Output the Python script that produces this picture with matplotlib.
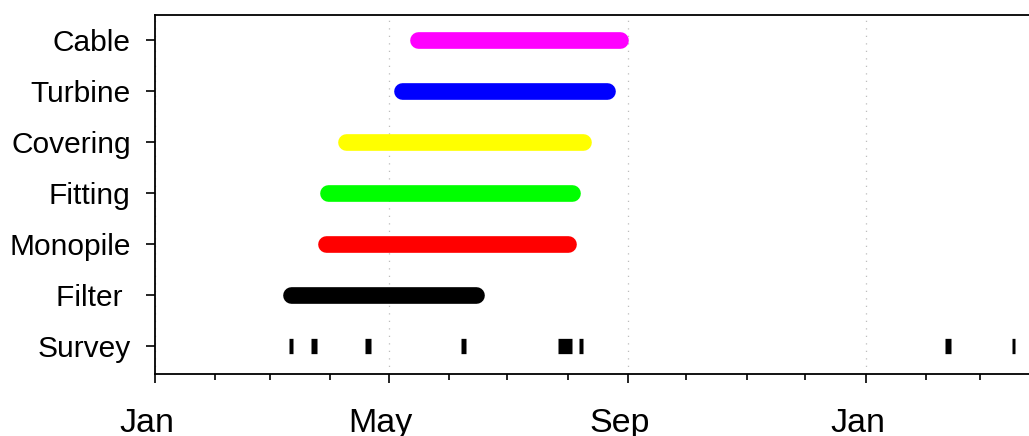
import datetime as dt
import matplotlib
matplotlib.use('Agg')
from matplotlib import pyplot as plt
import matplotlib.dates as mdates
import matplotlib.transforms as mtransforms

plt.rcParams['font.family'] = ['Liberation Sans', 'DejaVu Sans']

# task rows, bottom to top
tasks = ['Survey', 'Filter ', 'Monopile', 'Fitting', 'Covering', 'Turbine', 'Cable']

bar_tasks = ['Filter ', 'Monopile', 'Fitting', 'Covering', 'Turbine', 'Cable']
bar_start = ['2013-03-12', '2013-03-30', '2013-03-31', '2013-04-09', '2013-05-08', '2013-05-16']
bar_end = ['2013-06-15', '2013-08-01', '2013-08-03', '2013-08-09', '2013-08-21', '2013-08-28']
bar_colors = ['black', '#ff0000', '#00ff00', '#ffff00', '#0000ff', '#ff00ff']

survey_start = ['2013-03-11', '2013-03-22', '2013-04-19', '2013-06-07',
                '2013-07-27', '2013-08-07', '2014-02-11', '2014-03-17']
survey_end = ['2013-03-13', '2013-03-25', '2013-04-22', '2013-06-10',
              '2013-08-03', '2013-08-09', '2014-02-14', '2014-03-19']

x_min = '2013-01-01'
x_max = '2014-03-28'


def d(s):
    return dt.datetime.strptime(s, '%Y-%m-%d')


fig = plt.figure(figsize=(10.29, 4.36), dpi=100)
ax = fig.add_axes([155 / 1029, 62 / 436, 878 / 1029, 359 / 436])

lw = 12
for name, s, e, c in zip(bar_tasks, bar_start, bar_end, bar_colors):
    y = tasks.index(name)
    ax.plot([d(s), d(e)], [y, y], color=c, lw=lw, solid_capstyle='round', zorder=3)

for s, e in zip(survey_start, survey_end):
    ax.plot([d(s), d(e)], [0, 0], color='black', lw=lw - 1, solid_capstyle='butt', zorder=3)

ax.set_xlim(d(x_min), d(x_max))
ax.set_ylim(-0.55, 6.5)
ax.set_yticks(range(len(tasks)))
ax.set_yticklabels(tasks)

ax.xaxis.set_major_locator(mdates.MonthLocator(bymonth=[1, 5, 9]))
ax.xaxis.set_major_formatter(mdates.DateFormatter('%b'))
ax.xaxis.set_minor_locator(mdates.MonthLocator())

ax.grid(axis='x', which='major', color='#bdbdbd', linestyle=(0, (1, 5)), lw=0.9, zorder=0)

ax.tick_params(axis='x', which='major', direction='out', length=6.5, width=1.2,
               labelsize=24.5, pad=18)
ax.tick_params(axis='x', which='minor', direction='out', length=4.3, width=1.2)
ax.tick_params(axis='y', direction='out', length=6.5, width=1.2, labelsize=21.5, pad=11)

# shift date labels slightly left as in the reference
offset = mtransforms.ScaledTranslation(-8 / 100, 0, fig.dpi_scale_trans)
for lab in ax.get_xticklabels():
    lab.set_transform(lab.get_transform() + offset)

for side in ['left', 'top', 'bottom', 'right']:
    ax.spines[side].set_linewidth(1.3)
    ax.spines[side].set_color('black')

fig.savefig('out.png', dpi=100)
